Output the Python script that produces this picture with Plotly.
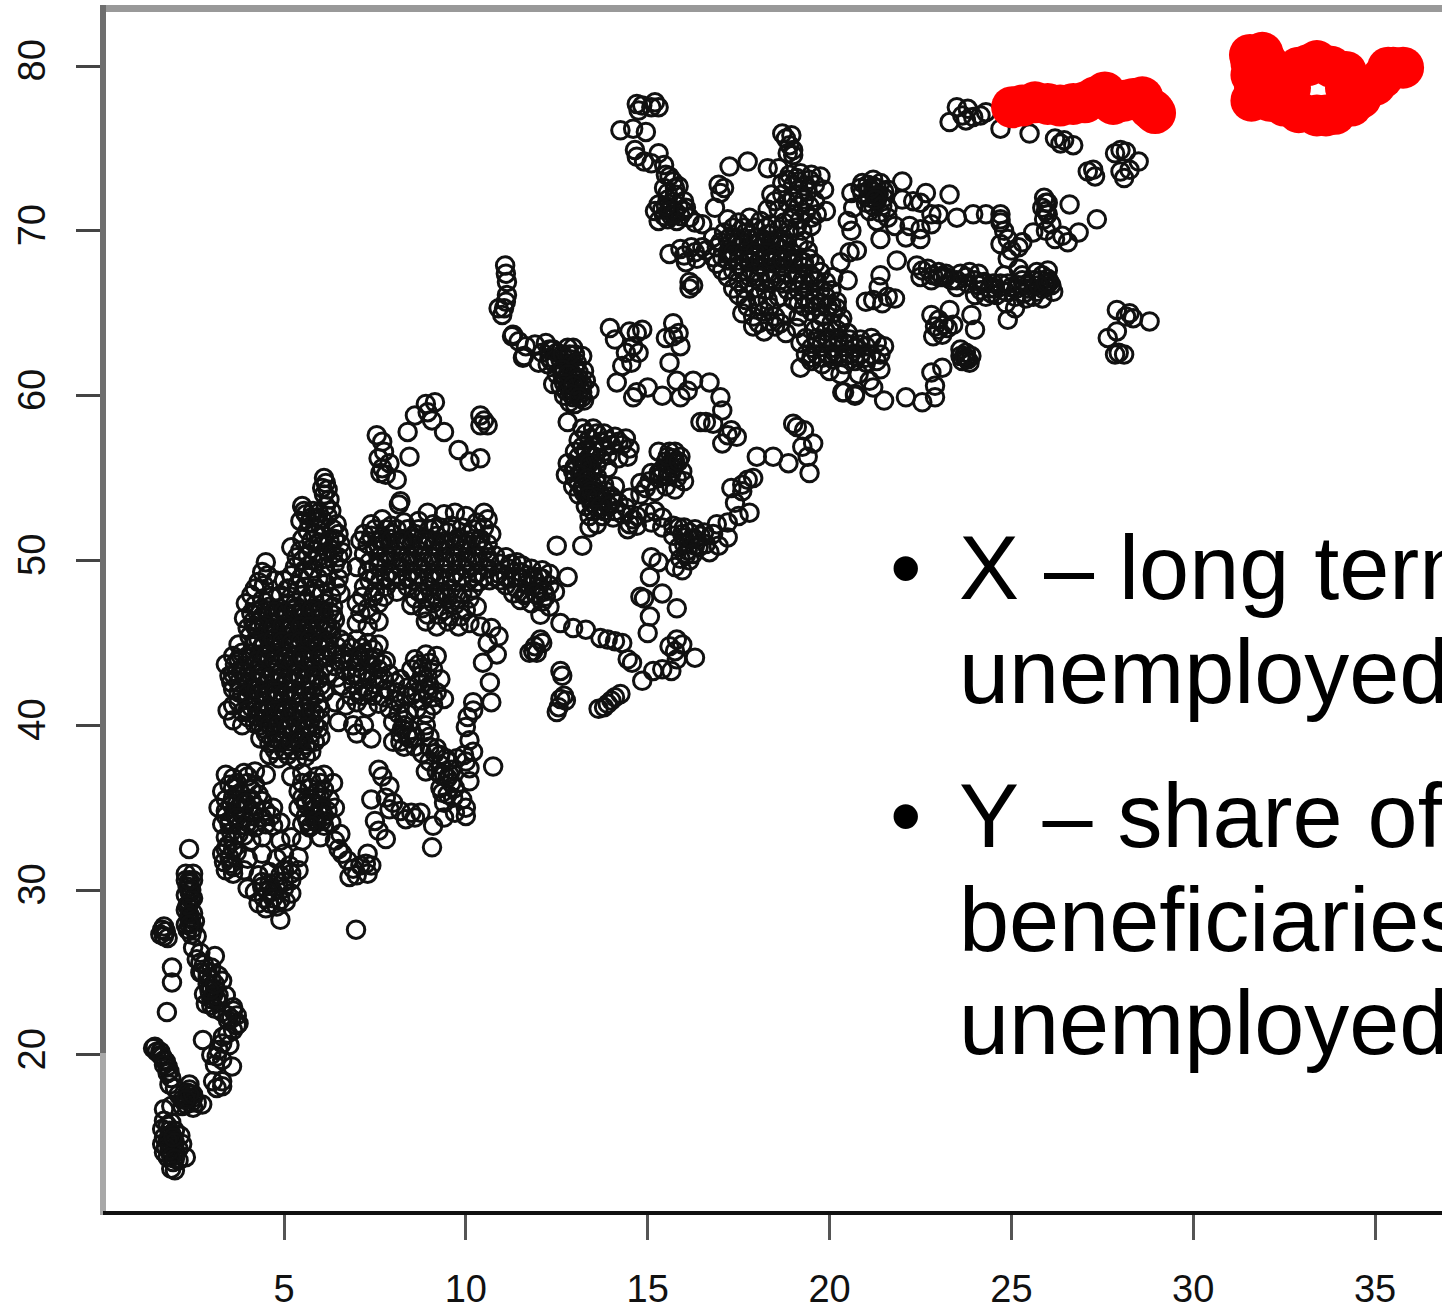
import plotly.graph_objects as go

stem_low = [(2.39,32.5),(2.3,31),(2.5,31),(2.3,30.6),(2.5,30.6),(2.35,30.2),(2.45,30),(2.3,29.7),(2.5,29.5),(2.4,29.2),(2.3,28.8),(2.5,28.6),(2.4,28.3),(2.3,27.9),(2.5,27.7),(2.45,27.3),(2.6,27.2),
(1.65,27.6),(1.75,27.5),(1.7,27.2),(1.6,27.3),(1.8,27.1),(1.7,27.8),(2.5,26.5),(2.7,26.2),(2.6,25.8),(2.8,25.5),(3.1,26),(3,25.3),(2.7,25),(3.2,24.8),(3.3,24.5),(2.9,24.3),(3.1,24),(2.8,23.7),(3,23.4),(3.2,23.2),(3.4,23.6),(2.85,23.1),(3.1,22.8),(3.3,22.6),
(1.92,25.3),(1.92,24.4),(1.78,22.6),(3.6,22.7),(2.77,20.9),(3.57,19.3),(3.3,18.1),(3.46,22.1),(3.32,21.1),(3.15,19.9),(3.6,22.9),(3.7,22.4),(3.75,21.9),(3.6,21.5),(3.45,21.3),(3.7,21.8),(3.3,20.7),(3.5,20.6),(3.2,20.3),(3,20),(3.3,19.7),(3.1,19.4),(3.05,18.4),(3.3,18.4),(3.15,18),
(1.4,20.4),(1.45,20.5),(1.5,20.2),(1.6,20),(1.7,19.7),(1.8,19.3),(1.75,19.6),(1.85,19),(1.9,18.6),(1.85,18.2),(2,18),(2.1,17.6),(2.2,17.3),(2.4,17.9),(2.5,17.4),(2.6,17.1),(2.3,17),(2.5,16.8),(2.2,16.9),(2.4,18.2),(2.75,17),(1.9,16.9),
(1.7,16.7),(1.7,16),(1.65,15.5),(1.7,15),(1.65,14.6),(1.7,14.1),(1.8,15.7),(1.9,15.2),(2,15.4),(2.15,15.1),(2.2,14.6),(1.85,14.6),(2,14.2),(1.8,13.8),(1.95,13.5),(2.1,13.6),(1.9,13.1),(2,13),(2.3,13.8),(2.1,14.3),(6.98,27.6),
(2.35,27.6),(2.55,28.1),(2.4,30.4),(2.35,29),(2.45,28),(2.7,25.6),(2.9,25),(3,24.6),(3,24),(3.2,23.6),(3,23),(3.45,22.4),(3.55,22.2),(2.35,17.4),(2.35,17.7),(2.45,17.1),(1.9,15.9),(1.85,14.2),(1.95,14.8),(1.85,15.4),
(2.4,29.9),(2.45,29.4),(2.35,29.1),(2.4,28.5),(2.4,27.9),(2.4,30.6),(2.75,25),(2.9,24.7),(3.05,23.6),(3.15,23.4),(2.95,23.9),(3.1,24.3),(1.85,15.1),(1.8,14.8),(1.75,14.4),(2,14.7),(1.95,15),(1.9,13.8),(2,13.7),(2.4,17.6),(2.5,17.6),(2.3,17.3),(1.65,19.9),(1.6,20.2),(1.7,19.4),(1.8,18.9)]

lower_left = [(3.4,37),(3.6,36.8),(3.9,37.1),(4,36.9),(4.2,37.2),(4.5,37),(5.2,36.9),(5.5,37.1),(5.9,36.9),(6.1,37),(3.3,36),(3.6,36.2),(3.8,35.9),(4.1,36.1),(4.3,35.8),(5.4,36),(5.7,36.2),(5.9,35.9),(6.1,36.1),(6.35,36.5),
(3.2,35),(3.4,34.8),(3.7,35.2),(3.9,34.9),(4.2,35.1),(4.5,34.8),(4.7,35),(5.4,35),(5.6,35.2),(5.8,34.9),(6,35.1),(6.2,34.8),(6.4,35),(3.3,34),(3.5,34.2),(3.8,33.9),(4,34.1),(4.2,33.8),(4.5,34),(4.7,33.9),(4.9,34.1),(5.5,34),(5.7,33.8),(5.9,34.1),(6.1,33.9),(6.3,34.1),
(3.4,33.2),(3.6,33),(3.9,33.3),(4.1,33),(4.4,33.2),(4.9,33),(5.2,33.2),(5.5,33),(6,33.2),(3.3,32.2),(3.5,32),(3.7,32.3),(4,31.9),(4.4,32.2),(4.8,31.9),(5,32.2),(5.4,32),(3.4,31.2),(3.6,31),(3.9,31.2),(4.3,30.9),(4.6,31.1),(4.9,30.9),(5,31.2),(5.2,31),(5.4,31.2),
(4,30.1),(4.2,29.9),(4.4,30.2),(4.7,29.9),(5,30.1),(5.2,29.8),(4.3,29.2),(4.5,28.9),(4.6,29.2),(4.8,29),(5.05,29.3),(4.9,28.2),
(6.5,32.5),(6.4,33),(6.55,33.4),(6.75,31.8),(6.6,32.2),(6.9,31.3),(7,30.9),(6.8,30.8),(7.1,31.5),(7.3,31),(7.25,31.6),
(7.4,35.5),(7.5,34.2),(7.6,33.6),(7.8,33.1),(7.3,32.2),(7.4,31.5),(7.6,37.3),(7.7,36.9),(7.9,36.3),(7.8,35.6),(8,35.3),(8.2,34.8),(8.5,34.7),(8.6,34.4),(8.75,34.7),(8.35,34.3),(7.9,34.9),(9.07,32.6),(9.1,33.9)]

lower_left_fill = [(3.5,36.4),(3.7,36.5),(4,36.5),(4.2,36.4),(5.5,36.5),(5.75,36.6),(6,36.5),(3.4,35.5),(3.6,35.6),(3.85,35.5),(4.1,35.5),(4.4,35.4),(5.5,35.6),(5.75,35.5),(6,35.6),(6.25,35.5),(3.4,34.5),(3.65,34.5),(3.9,34.4),(4.15,34.5),(4.4,34.4),(4.65,34.5),(5.6,34.5),(5.85,34.5),(6.1,34.5),(3.45,32.7),(3.6,32.5),(3.35,31.7),(3.55,31.6),(4.4,30.5),(4.6,30.4),(4.85,30.5),(5,30.5),(5.15,31.5),(4.45,29.5),
(3.55,35.2),(3.75,35),(3.95,35.3),(3.5,34),(3.7,34.4),(3.95,33.9),(4.1,34.8),(3.55,33.5),(3.75,33.4),(5.6,35.4),(5.8,35.2),(6.05,34.9),(5.65,34.2),(5.85,34.2),(6.05,34.2),(5.75,33.9),(3.4,32.5),(3.6,31.4),(4.55,29.9),(4.7,29.5),(4.9,29.4),(5.2,30.6)]

left_mass = [(6.1,55),(6.15,54.7),(6.05,54.4),(6.2,54.3),(6.1,54),(6.25,53.7),(6.15,53.3),(6.3,53),(6.2,52.7),(6.45,52.2),(6.5,51.6),(6.55,51),(6.6,50.5),(6.35,51.9),(6.4,51.3),
(5.5,53.3),(5.6,52.8),(5.45,52.4),(5.7,52.3),(5.9,52.6),(5.8,53),(6,52.1),(5.65,51.8),(5.85,51.6),(6.1,51.5),(5.95,51.1),(6.25,51.2),(6.2,50.5),(5.2,50.8),(5.65,50.3),(5.95,50.2),(5.35,50.2),(5.3,49.6),(5.55,49.4),(5.8,49.5),(6.1,49.6),(6.4,49.8),(6.6,49.5),
(4.5,49.9),(4.4,49.3),(4.55,49.1),(4.3,48.7),(4.45,48.5),(4.2,48.3),(5.1,48.3),(5.35,48.5),(5.6,48.4),(5.85,48.3),(6.15,48.6),(6.45,48.4),(4.9,47.9),(4.65,47.8),
(3.95,47.4),(4.2,47.3),(4.4,47.6),(4.6,47.2),(4.85,47.1),(5.1,47.4),(5.35,47.2),(5.6,47.5),(5.85,47.1),(6.1,47.4),(6.35,47.2),(6.55,48),
(3.9,46.5),(4.15,46.3),(4.4,46.6),(4.65,46.2),(4.9,46.4),(5.15,46.1),(5.4,46.5),(5.65,46.2),(5.9,46.4),(6.15,46.1),(6.4,46.4),
(4.05,45.4),(4.3,45.2),(4.55,45.5),(4.8,45.1),(5.05,45.4),(5.3,45.2),(5.55,45.4),(5.8,45.1),(6.05,45.3),(6.3,45.5),(6.55,45.2),
(3.6,44.2),(3.85,44.4),(4.1,44.1),(4.35,44.3),(4.6,44),(4.85,44.4),(5.1,44.1),(5.35,44.3),(5.6,44),(5.85,44.3),(6.1,44.1),(6.35,44.3),(6.6,44),
(3.4,43.7),(3.5,43),(3.7,43.2),(3.95,42.9),(4.2,43.3),(4.45,43),(4.7,43.2),(4.95,42.9),(5.2,43.2),(5.45,42.9),(5.7,43.1),(5.95,42.8),(6.2,43.1),(6.45,42.9),
(3.6,42.2),(3.85,41.9),(4.1,42.2),(4.35,41.9),(4.6,42.1),(4.85,41.8),(5.1,42.1),(5.35,41.9),(5.6,42.1),(5.85,41.8),(6.1,42),
(3.45,40.9),(3.6,41.2),(3.85,40.8),(4.1,41.1),(4.35,40.8),(4.6,41),(4.85,40.7),(5.1,41),(5.35,40.8),(5.6,41),(5.85,40.7),
(3.6,40.3),(3.85,40),(4.2,40.1),(4.45,39.8),(4.7,40.1),(4.95,39.8),(5.2,40),(5.45,39.7),(5.7,40),(5.95,39.8),
(4.35,39.2),(4.6,38.9),(4.85,39.1),(5.1,38.8),(5.35,39.1),(5.6,38.8),(5.85,39),(4.6,38.2),(4.85,38),(5.1,38.2),(5.35,37.9),(5.6,38.1)]

left_fill = [(5.55,53),(5.75,52.6),(5.95,52.9),(6.05,52.5),(5.5,51.3),(5.75,51.2),(6.05,50.9),(6.3,50.7),(5.45,50.6),(5.75,50.7),(6.5,50.2),(5.5,50),(5.8,50),(6.1,50.1),(6.35,50.4),
(5.2,49.1),(5.45,48.9),(5.7,49),(5.95,48.9),(6.2,49.1),(6.5,48.9),(4.75,48.8),(5,48.8),
(4.1,47.9),(4.35,47),(4.6,46.7),(4.1,46.8),(4.85,46.7),(5.1,46.8),(5.35,46.8),(5.6,46.8),(5.85,46.8),(6.1,46.8),(6.35,46.7),(5.2,47.8),(5.5,47.9),(5.8,47.9),(6.05,48),(6.3,47.8),
(4,45.9),(4.3,45.8),(4.55,45.9),(4.8,45.7),(5.05,45.8),(5.3,45.7),(5.55,45.8),(5.8,45.7),(6.05,45.8),(6.3,45.9),
(3.75,44.9),(4.15,44.8),(4.4,44.8),(4.65,44.7),(4.9,44.8),(5.15,44.7),(5.4,44.8),(5.65,44.6),(5.95,44.8),(6.2,44.7),(6.45,44.8),
(3.65,43.7),(3.9,43.6),(4.1,43.6),(4.35,43.7),(4.6,43.5),(4.85,43.7),(5.1,43.6),(5.35,43.7),(5.6,43.5),(5.85,43.6),(6.1,43.5),(6.4,43.6),
(3.55,42.6),(3.75,42.6),(4,42.5),(4.25,42.6),(4.5,42.5),(4.75,42.6),(5,42.5),(5.25,42.6),(5.5,42.4),(5.75,42.5),(6,42.4),
(3.75,41.4),(4,41.6),(4.2,41.5),(4.45,41.4),(4.7,41.5),(4.95,41.4),(5.2,41.5),(5.45,41.4),(5.7,41.4),(5.95,41.3),
(4,40.5),(4.25,40.5),(4.5,40.4),(4.75,40.4),(5,40.4),(5.25,40.5),(5.5,40.3),(5.75,40.4),(6,40.4),
(4.5,39.5),(4.75,39.5),(5,39.4),(5.25,39.5),(5.5,39.4),(5.75,39.5),(6,39.3),(4.75,38.5),(5,38.5),(5.25,38.5),(5.5,38.5),(5.75,38.4)]

left_dense = [(4.25,46.9),(4.5,47),(4.75,46.9),(5,46.9),(5.25,47),(5.5,47),(5.75,47),(6,46.9),(6.25,46.9),(4.2,46),(4.45,46.1),(4.7,45.9),(4.95,46),(5.2,45.9),(5.45,46),(5.7,46),(5.95,46),(6.2,45.9),(4.2,45.1),(4.45,45),(4.7,45.2),(4.95,45.1),(5.2,45),(5.45,45.1),(5.7,45.2),(5.95,45),(6.2,45.1),(3.75,44),(4,44.2),(4.25,43.9),(4.5,44.2),(4.75,43.9),(5,44.1),(5.25,43.9),(5.5,44.2),(5.75,43.9),(6,44.2),(3.6,43.1),(3.85,43.2),(4.1,42.9),(4.35,43.1),(4.6,42.9),(4.85,43.1),(5.1,42.8),(5.35,43.1),(5.6,42.8),(5.85,43),(3.75,42),(4,41.9),(4.25,42.2),(4.5,41.9),(4.75,42),(5,41.9),(5.25,42.1),(5.5,41.8),(5.75,42.1),(4,40.9),(4.25,41),(4.5,40.8),(4.75,40.9),(5,40.8),(5.25,40.9),(5.5,40.8),(5.75,40.9),(6,41),(4.35,40),(4.6,40),(4.85,40),(5.1,39.9),(5.35,40),(5.6,39.9),(5.85,40),(4.7,39),(4.95,39),(5.2,39),(5.45,39),(5.7,39)]

mid_band = [(8.95,52.9),(8.16,53.4),(7.7,52.5),(7.4,52.2),(7.1,51.2),(7.2,51.6),(9.4,52.8),(9.7,52.9),(10,52.7),(10.5,52.9),(10.6,52.5),(10.3,52.3),(9.1,52.2),(8.7,52.4),(8.3,52.3),(7.95,52.1),
(7.4,51.5),(7.7,51.3),(8,51.6),(8.3,51.3),(8.6,51.6),(8.9,51.3),(9.2,51.5),(9.5,51.7),(9.8,51.4),(10.1,51.6),(10.4,51.3),(10.7,51.6),
(7.2,50.4),(7.5,50.7),(7.8,50.4),(8.1,50.6),(8.4,50.3),(8.7,50.6),(9,50.3),(9.3,50.6),(9.6,50.4),(9.9,50.6),(10.2,50.3),(10.5,50.6),(10.8,50.3),(11.1,50.2),(11.4,49.9),
(7,49.6),(7.3,49.3),(7.6,49.6),(7.9,49.3),(8.2,49.6),(8.5,49.3),(8.8,49.5),(9.1,49.2),(9.4,49.5),(9.7,49.2),(10,49.5),(10.3,49.2),(10.6,49.5),(10.9,49.2),(11.2,49.5),(11.5,49.3),(11.8,49.5),(12.1,49.4),(12.3,49.2),
(7.2,48.4),(7.5,48.1),(7.8,48.4),(8.1,48.1),(8.4,48.4),(8.7,48.1),(9,48.4),(9.3,48.1),(9.6,48.3),(9.9,48),(10.2,48.3),(11.1,48.5),(11.4,48.3),(11.7,48.6),(12,48.3),(12.3,48.5),(12.45,48.1),
(7,47.4),(7.3,47.1),(7.6,47.4),(8.5,47.3),(8.8,47.1),(9.1,47.4),(9.4,47),(9.7,47.3),(10,47),(10.3,47.2),(11.5,47.6),(11.8,47.4),(12.1,47.5),(12.3,47.2),
(8.9,46.3),(9.2,46),(9.5,46.3),(9.8,46),(10.1,46.2),(10.4,46),(7,46.2),(7.3,46),(7.6,46.3),(12.05,46.7),
(10.7,45.9),(10.6,45),(10.85,44.3),(10.9,45.4),(10.47,43.8),(10.66,42.6),(10.7,41.4),(10.75,37.5),(10.2,40.9),(10,39.9),(11.85,44.5),(12.1,45),(12.6,46.2),(12.5,50.9),(13.2,50.9),(12.8,49),(11.75,44.4),(11.95,44.4),(11.9,44.8),(12.05,45.2)]

mid_fill = [(7.5,51.9),(7.8,51.9),(8.1,51.9),(8.4,51.9),(8.7,51.9),(9,51.9),(9.3,52),(9.6,52.1),(9.9,52),(10.2,51.9),(10.5,52),
(7.3,51),(7.6,50.9),(7.9,51),(8.2,50.9),(8.5,51),(8.8,50.9),(9.1,50.9),(9.4,51),(9.7,50.9),(10,51),(10.3,50.9),(10.6,51),
(7.35,49.9),(7.65,49.9),(7.95,50),(8.25,49.9),(8.55,49.9),(8.85,49.9),(9.15,49.9),(9.45,49.9),(9.75,49.9),(10.05,49.9),(10.35,49.9),(10.65,49.9),(10.95,49.8),(11.25,49.8),(11.55,49.7),(11.85,49),(12.1,48.9),
(7.35,48.8),(7.65,48.8),(7.95,48.8),(8.25,48.8),(8.55,48.8),(8.85,48.8),(9.15,48.8),(9.45,48.8),(9.75,48.7),(10.05,48.7),(10.35,48.7),(10.65,48.8),(10.95,48.8),(11.25,48.9),(11.55,48.9),
(7.15,47.8),(7.45,47.8),(7.75,47.8),(8.6,47.7),(8.9,47.7),(9.2,47.7),(9.5,47.7),(9.8,47.7),(10.1,47.7),(8.95,46.7),(9.25,46.7),(9.55,46.6),(9.85,46.6),(11.65,48),(11.95,47.9),(12.2,47.8),(11.9,48.8),(7.1,46.8),(7.4,46.7),
(7.65,51.2),(7.95,51.3),(8.25,51.2),(8.55,51.3),(8.85,51.2),(9.15,51.2),(9.45,51.2),(9.75,51.2),(10.05,51.2),(10.35,51.2),(7.6,50.2),(7.9,50.2),(8.2,50.2),(8.5,50.2),(8.8,50.2),(9.1,50.2),(9.4,50.2),(9.7,50.2),(10,50.2),(10.3,50.2),(10.6,50.2),(7.5,49),(7.8,49),(8.1,49),(8.4,49),(8.7,49),(9,49),(9.3,49),(9.6,49),(9.9,49),(10.2,49),(10.5,49),(10.8,49),(11.1,49),(11.4,49),(11.7,49.1),(12,49),(8.85,48),(9.15,47.9),(9.45,47.9),(9.75,48),(11.3,48),(11.6,47.9),(11.9,48),(12.15,48.1)]

lower_mass = [(6.7,45),(7,45.2),(7.3,45),(7.6,44.9),(6.6,44.3),(6.9,44.1),(7.2,44.4),(7.5,44.1),(7.8,43.9),(6.7,43.3),(7,43.5),(7.3,43.2),(7.6,43.4),(7.9,43.1),(8.2,42.8),(6.6,42.4),(6.9,42.5),(7.2,42.3),(7.5,42.5),(7.8,42.2),(8.1,42),(8.4,42.3),
(8.6,44),(8.9,44.3),(9.2,44.2),(8.5,43.4),(8.8,43.1),(9.1,43.4),(9.3,42.8),(8.7,42.6),(9,42.4),(8.5,41.8),(8.8,41.5),(9.1,41.2),(9.4,41.6),
(6.4,41.4),(6.7,41.2),(7,41.4),(7.3,41.1),(7.6,41.3),(7.9,41),(8.2,41.3),(8.4,40.7),(6.5,40.2),(6.9,40),(7.2,40),(7,39.5),(7.4,39.2),
(8,40.2),(8.3,40.3),(8.5,39.7),(8.2,39.5),(8,39),(8.3,38.7),(8.6,38.7),(8.9,40),(9,39.3),(9.2,38.6),(8.8,38.3),(9,37.8),(9.3,37.6),(9.6,37.3),(9.5,36.8),(9.3,36.2),(9.7,36.2),(9.5,35.8),(9.9,35.5),(9.4,35.3),(9.75,38),(9.95,38.2),(10.1,39.1),(10.2,38.4),(10.1,37.4),(10.05,40.5),(10.2,41.4),(10.1,36.6),(10,35),(9.7,34.7),(9.4,34.4),(10,34.5)]

lower_fill = [(6.85,44.7),(7.15,44.7),(7.45,44.6),(6.8,43.9),(7.1,43.9),(7.4,43.7),(7.7,43.7),(6.85,43),(7.15,42.9),(7.45,42.9),(7.75,42.8),(8.05,42.6),(8.35,41.8),(8.05,41.5),(7.75,41.7),(7.45,41.8),(7.15,41.8),(6.85,41.8),(8.7,43.7),(9,43.8),(8.65,42),(8.95,41.9),(9.2,42),(8.65,41),(8.9,40.7),(8.2,39),(8.45,39.2),(8.3,40),(8.15,40.7),(8.85,39.6),(9,38.7),(9.3,38.2),(9.2,37.2),(9.5,37.8),(9.4,37),(9.6,36.5),(9.35,35.9),(9.65,35.6),(10,37.8),(8.9,37.2),
(7.1,44.2),(7.35,44.1),(7,43.1),(7.3,43),(7.6,42.9),(7.05,42.1),(7.35,42),(8.8,43.5),(8.95,42.9),(8.9,42.2),(9.1,41.7),(8.25,39.8),(8.4,39.4),(8.6,39.3),(9.15,38.3),(9.45,38),(9.3,37),(9.55,37)]

upper_trail = [(7.55,57.6),(7.7,57.2),(7.75,56.6),(7.6,56.2),(7.9,55.9),(7.7,55.6),(7.8,55.2),(7.65,55.3),(8.4,57.8),(8.45,56.3),(8.6,58.8),(8.9,59.5),(9.15,59.6),(9.07,58.5),(8.95,59),(9.4,57.8),(9.8,56.7),(10.1,56),(10.4,56.2),(10.4,58.8),(10.6,58.2),(10.4,58.2),(10.5,58.5),(8.2,53.6),(8.1,54.9)]

center_a = [(11.08,67.9),(11.13,66.9),(11.1,67.4),(11.13,66.1),(11.05,65.3),(11,64.9),(10.9,65.3),(11.1,65.7),(11.27,63.6),(11.3,63.7),(11.45,63.3),(11.57,62.3),(11.6,62.4),(11.65,63),(12,62),(12.25,61.9),(12.8,58.4),
(11.9,63.1),(12.2,63.2),(12.4,62.8),(12.1,62.6),(12.3,62.3),(12.6,62.2),(12.8,62.9),(12.95,62.9),(13.2,62.4),(12.9,62.2),(12.7,61.7),(13,61.7),(13.25,61.5),(12.5,61.3),(12.75,61),(13,61),(13.3,60.9),(12.6,60.6),(12.85,60.4),(13.15,60.4),(13.4,60.3),(12.7,60),(12.95,59.9),(13.2,59.9),(13,59.5),(13.25,59.7),(12.85,59.6),(12.4,60.7),
(12.3,62.8),(12.5,62.6),(12.7,62.3),(13,62.5),(12.85,61.9),(13.1,61.4),(12.9,61.4),(12.65,61.3),(12.85,60.8),(13.05,60.7),(13.2,60.7),(12.75,60.3),(13,60.2),(13.2,60.2),(12.35,62.1),
(12.45,62.2),(12.65,62.5),(12.85,62.5),(13.05,62),(12.65,61.6),(12.8,61.3),(13.1,61.05),(12.7,60.75),(12.95,60.65),(12.9,60.1),(13.1,59.9)]

center_b = [(13.2,58),(13.5,58),(13.8,57.7),(14.1,57.5),(14.4,57.4),(14.5,56.8),(14.3,57),(14,57),(13.7,57.2),(13.4,57.4),(13.1,57.3),(13,56.6),(13.3,56.7),(13.6,56.6),(13.9,56.4),(14.2,56.2),(14.45,56.3),(12.8,55.9),(13,55.7),(13.3,56),(13.6,55.8),(13.9,55.6),(12.75,55.2),(13,55),(13.3,55.2),(13.6,55.1),(12.95,54.5),(13.2,54.4),(13.5,54.5),(13.8,54.6),(14.1,54.5),(13.1,54),(13.4,53.8),(13.7,54),(14,53.9),(13.3,53.3),(13.6,53.2),(13.9,53.4),(14.2,53.5),(14.5,53.8),(14.8,54),(13.4,52.7),(13.6,52.2),(13.75,52.7),(14.05,52.6),(14.3,52.8),(14.5,52.2),(14.45,51.9),(14.7,52.1),(14.7,52.7),(14.95,52.9),(15.2,53),(15.4,52.6),(15.1,52.3),(13.4,52),
(14.8,54.7),(15.05,54.8),(15.3,55),(15.55,55.1),(15.8,55),(16,54.8),(15.1,55.3),(15.4,55.5),(15.7,55.6),(15.95,55.4),(15.5,56),(15.7,56.2),(15.9,56.3),(15.6,56.6),(15.75,56.6),(15.3,56.6),(15.5,54.5),(15.75,54.3),(15.2,54.2),(14.95,54.4),
(15.4,52),(15.7,52.1),(16,52),(16.3,51.9),(16.55,51.7),(16.8,51.6),(15.7,51.5),(16,51.4),(16.3,51.3),(16.6,51),(15.85,50.8),(16.1,50.6),(16.4,50.8),(16.7,50.5),(15.9,50.1),(16.15,50),(15.75,49.6),(15.95,49.4),(16.95,50.9),(17.2,51.4),(17.2,52.3),(16.9,52.2),(17.5,52.7),(17.8,52.9),(17.4,53.5),(17.6,54.6),(17.9,55),(17.3,54.4),(17.75,54.9),(17.6,54.2),
(13.3,57.7),(13.6,57.7),(13.9,57.3),(14.2,57.2),(13.2,56.9),(13.5,56.9),(13.8,56.9),(13.1,56.3),(13.4,56.3),(13.7,56.2),(12.95,55.4),(13.2,55.5),(13.45,55.5),(13.1,54.7),(13.35,54.7),(13.6,54.7),(13.25,54.1),(13.55,54.2),(13.85,54.2),(13.45,53.5),(13.75,53.6),(14.05,53.7),(13.5,53),(13.8,53),(14.1,53),(14.4,53.2),(14.6,52.5),(15.6,55.8),(15.75,56),(15.65,55.3),(15.3,55.3),(15.85,52),(16.15,51.7),(16.45,51.5),(16,51),(16.3,50.9),(16.05,50.3),
(13.3,56.6),(13.55,56.3),(13.2,55.9),(13.4,55.9),(13.15,55.2),(13.35,55),(13.25,54.6),(13.45,54.2),(13.6,53.8),(13.35,53.9),(13.7,53.3),(13.95,53.3),(15.55,55.5),(15.4,55.2),(15.75,55.9),(15.55,56.3),(15.85,56),(15.95,51.6),(16.2,51.3),(16.25,50.4)]

center_c = [(13.96,64.1),(14.1,63.4),(14.7,63.8),(14.5,63.9),(14.85,64),(14.4,62.6),(14.6,63),(14.75,62.6),(14.3,61.8),(14.55,62),(14.15,60.8),(14.6,59.9),(15,60.5),(14.7,60.2),(15.4,60),(15.9,59.9),(16.1,60.3),(15.8,60.9),(16.25,60.9),(16.7,60.8),(17,59.9),(17.05,59.1),(16.45,58.4),(16.6,58.4),(16.8,58.3),(17.3,57.9),(17.05,57.1),(17.45,57.5),(17.2,57.6),
(15.7,64.4),(15.7,63.6),(15.9,63),(15.85,63.8),(15.6,62),(15.5,63.5),(18,56.3),(18.45,56.3),(18.87,55.9),(19.45,55.3),(19.55,57.1),(19.4,56.3),(19,58.3),(19.1,58.1),(19.3,57.9),(19.25,56.9)]

center_d = [(15.1,50.2),(15.06,49),(15.3,49.9),(15.4,48),(14.8,47.8),(14.9,47.7),(15.8,47.1),(15.06,46.6),(15,45.6),(15.8,45.2),(15.6,44.8),(15.75,44.5),(15.95,44.9),(16.3,44.1),(14.57,43.8),(14.45,44),(14.85,42.7),(15.15,43.3),(15.4,43.4),(15.65,43.3),(15.8,44),
(12.6,43.3),(12.65,43),(12.6,41.6),(12.7,41.8),(12.55,41.1),(12.5,40.8),(12.75,41.5),(12.95,45.9),(13.3,45.8),(13.7,45.3),(13.9,45.2),(14.1,45.1),(14.3,45),
(13.65,41),(13.8,41.1),(13.9,41.3),(14,41.5),(14.1,41.7),(14.25,41.9)]

upper_left = [(14.7,77.7),(14.75,77.3),(15.2,77.8),(15.3,77.5),(15.1,77.5),(14.85,77.6),(14.25,76.1),(14.6,76.2),(14.95,76),(14.65,74.9),(14.7,74.5),(14.9,74.2),(15.3,74.7),(15.1,74.1),(15.45,74),(15.5,73.4),(15.7,73),(15.85,72.7),(15.45,72.6),(15.75,72.2),(16,71.8),(15.55,71.9),(15.2,71.2),(15.3,70.6),(15.55,70.7),(15.75,71.2),(16,71.2),(15.4,71.3),(15.8,70.6),(16.15,70.8),(16.5,70.4),
(15.6,68.6),(15.9,68.9),(16.2,69),(16.5,69),(16.05,68.1),(16.35,68.3),(16.15,66.9),(16.15,66.5),(16.25,66.7),(16.95,72.8),(17,72.3),(17.1,72.6),(17.25,73.9),(17.75,74.2),(18.3,73.8),(16.85,71.4),
(15.6,73.3),(15.75,72.6),(15.55,72.3),(15.3,71.6),(15.6,71.4),(15.85,71.5),(15.45,70.9),(15.65,70.9),(15.9,70.9),(16.05,71.4),(16.3,70.5),(16,68.5),(16.3,68.7),(15.6,71.2),(15.75,71),(15.5,71.5)]

upper_main = [(18.7,75.9),(18.95,75.8),(18.8,75.6),(18.9,75.2),(19,74.9),(18.85,74.7),(19,74.6),(18.6,73.8),(18.9,73.4),(19.2,73.5),(19.5,73.4),(19.75,73.3),(18.7,72.9),(19,72.8),(19.3,72.7),(19.6,72.8),(19.85,72.5),(18.4,72.2),(18.7,72.2),(19,72),(19.3,71.9),(19.6,71.8),(18.3,71.3),(18.6,71.3),(19,71),(19.35,71.1),(19.65,71),(19.9,71.2),
(17.2,70.7),(17.5,70.5),(17.8,70.8),(18.1,70.6),(18.4,70.4),(18.75,70.5),(19.1,70.2),(19.5,70.3),(16.8,69.6),(17.1,69.9),(17.4,69.6),(17.7,69.9),(18,69.6),(18.3,69.8),(18.6,69.5),(18.9,69.8),(19.3,69.4),
(16.6,68.8),(16.9,69),(17.2,68.7),(17.5,69),(17.8,68.7),(18.1,69),(18.4,68.7),(18.7,68.9),(19,68.6),(19.4,68.8),(16.9,68),(17.2,68.2),(17.5,67.9),(17.8,68.1),(18.1,67.8),(18.4,68.1),(18.7,67.8),(19,68),(19.3,67.8),(19.6,68),
(17.2,67.2),(17.5,66.9),(17.8,67.2),(18.1,66.9),(18.4,67.1),(18.7,66.8),(19,67),(19.3,66.8),(19.6,67),(19.9,66.9),(17.5,66.1),(17.7,65.8),(18,66),(18.3,65.8),(18.6,66),(19,65.8),(19.3,66),(19.6,65.8),(19.9,66),(20.2,65.7),
(17.6,65),(17.9,64.8),(18.2,65.1),(18.5,64.8),(18.8,65),(19.15,64.8),(19.5,65.1),(19.8,64.8),(20.1,65),(20.35,64.7),(17.9,64.2),(18.2,63.9),(18.5,64.2),(18.8,63.8),(19.1,64.1),(19.6,64),(19.9,63.9),(20.2,64),(20.5,63.8),
(19.2,63.2),(19.5,62.9),(19.8,63.2),(20.1,62.9),(20.4,63.2),(20.7,62.9),(21,63),(21.3,63.2),(21.5,63),(19.2,61.7),(19.5,62.1),(19.8,61.9),(20.1,62.2),(20.4,61.9),(20.7,62.1),(21,62),(21.3,62.1),(21.4,61.6),(20,61.5),(20.3,61.3),(20.8,61.3),(20.35,60.2),(20.7,60.1),(21.1,60.9),(21.2,60.5),(21.5,59.7),
(20.5,70.6),(20.6,70),(20.55,68.7),(20.3,68.1),(20.75,68.8),(20.1,67.2),(20.5,67),(21.4,67.3),(21.35,66.6),(21.6,66),(21.2,65.8),(21,65.7),(21.45,65.6),(21.8,65.9)]

upper_main_fill = [(17,69.3),(17.3,69.3),(17.6,69.3),(17.9,69.2),(18.2,69.3),(18.5,69.2),(18.8,69.2),(19.15,69.2),(16.8,68.4),(17.05,68.4),(17.35,68.4),(17.65,68.4),(17.95,68.4),(18.25,68.4),(18.55,68.3),(18.85,68.3),(19.15,68.3),(19.45,68.3),(17.05,67.6),(17.35,67.6),(17.65,67.6),(17.95,67.5),(18.25,67.5),(18.55,67.4),(18.85,67.4),(19.15,67.4),(19.45,67.4),(19.75,67.5),
(17.35,66.5),(17.65,66.5),(17.95,66.5),(18.25,66.4),(18.85,66.4),(19.15,66.4),(19.45,66.4),(19.75,66.4),(20.05,66.4),(17.75,65.4),(18.05,65.5),(18.35,65.4),(19.3,65.4),(19.65,65.4),(19.95,65.4),(20.2,65.3),(18.05,64.4),(18.35,64.5),(18.65,64.4),(19.75,64.4),(20.05,64.4),(20.3,64.4),
(19.35,63.5),(19.65,63.5),(19.95,63.5),(20.25,63.5),(20.55,63.4),(20.85,63.4),(21.15,63.5),(19.35,62.5),(19.65,62.5),(19.95,62.5),(20.25,62.5),(20.55,62.5),(20.85,62.5),(21.15,62.5),(21.4,62.5),(18.95,70.8),(19.2,70.7),(19.5,70.8),(17.35,70.2),(17.65,70.2),(17.95,70.2),(18.25,70.2),(18.6,70.1),(18.9,70.1),(19.25,70),(18.85,71.7),(19.15,71.5),(19.45,71.5),(18.5,71.8),(18.85,73.1),(19.15,73),(19.45,73.1),
(17.2,69.5),(17.5,69.5),(17.8,69.5),(18.1,69.4),(18.4,69.4),(18.7,69.4),(17.35,68.7),(17.65,68.7),(17.95,68.7),(18.25,68.7),(18.55,68.6),(18.85,68.6),(17.5,68.2),(17.8,68.2),(18.1,68.2),(18.4,68.3),(18.7,68.2),(19,68.2),(19.3,68.1),(18.05,67.2),(18.35,67),(18.65,67),(19.25,67),(19.55,67.2),(19.15,65.6),(19.45,65.6),(19.8,65.6),(20.05,65.5),(19.65,63.3),(19.95,63.3),(20.25,63.2),(20.55,63.1),(20.85,63.1),(19.5,62.3),(19.8,62.3),(20.1,62.4),(20.4,62.4),(20.7,62.4),(21,62.3),(19.15,72.2),(19.4,72.4),(19.1,73.2)]

upper_right = [(20.6,72.3),(20.9,72.9),(21.2,73.1),(21.4,72.9),(21.6,72.5),(20.9,72.3),(21.2,72.4),(21.5,72),(21,71.7),(21.3,71.8),(21.6,71.4),(21.1,71.2),(21.4,71.1),(21.3,70.6),(21.6,70.8),(20.65,71.4),(21.4,69.5),(22,71.9),(22.3,71.8),(22.5,71.7),(22,73),(22.65,72.3),(23.3,72.2),(22.8,71),(22.2,70.3),(22.5,70.1),(22.8,70.4),(23,71),(21.8,70.3),(22.1,69.6),(21.85,68.2),(22.5,69.5),(23.5,70.8),(23.95,71),(24.3,71),(24.7,70.7),
(22.4,67.9),(22.7,67.7),(23,67.5),(22.5,67.2),(22.8,67),(23.1,67.2),(23.35,67),(23.6,67.4),(23.85,67.5),(24.1,67.4),(23.5,66.6),(23.8,66.8),(24.1,66.7),(24.4,66.5),(24.7,66.8),(24,66.1),(24.3,66),(24.6,66.1),(24.85,65.6),(25.1,66),(25.4,65.9),(25.7,66.3),(25,66.6),(25.3,67),(24.8,67.3),(25.8,67),(26,67.1),(25.95,66.6),(26.1,66.7),(25.7,67.5),(26,67.6),(26.15,66.3),(25.85,65.9),(25.1,65.3),(24.9,64.6),(25.2,67.7),(25.3,67.3),
(22.8,64.9),(22.9,64.2),(23.1,63.7),(23,64.6),(23.25,64.1),(23.4,64.3),(22.85,63.6),(23.9,64.9),(24,64),(23.6,62.8),(23.75,62.6),(23.9,62.4),(23.65,62.1),(23.85,62),(23.75,62.3),(23.6,62.4),(23.3,65.2),
(20.4,60.2),(20.7,60),(22.1,59.9),(22.55,59.6),(22.9,59.9),(22.9,60.6),(22.8,61.4),(23.1,61.7),
(24.7,71),(24.7,70.5),(24.8,70),(24.9,69.5),(24.7,69.2),(25,68.8),(24.9,68.3),(25.3,69.3),(25.6,69.9),(25.2,69),(25.9,72),(26,71.7),(25.85,71.4),(26,71),(25.9,70.7),(26.1,70.4),(26.6,71.6),(26.4,69.7),(26.55,69.3),(26.85,69.9),(27.35,70.7),(25.95,70),(26.2,69.5),
(20.85,72.6),(21.05,72.8),(21.3,72.6),(21.5,72.4),(21.1,72),(21.35,72.2),(21.2,71.5),(21.45,71.5),(22.55,67.6),(22.85,67.3),(23.2,67.4),(23.5,67),(23.75,67.2),(24,67),(24.25,66.9),(24.55,66.5),(24.85,66.3),(25.15,66.5),(25.45,66.5),(25.6,66),(25.85,66.5),(26.05,66.9),(25.6,67),(25.85,67.3),(25.35,66.2),(24.15,66.4),(24.45,66.2),(25.95,71.7),(25.95,71.2),(23,64),(23.15,64.3),(23.7,62.4),(23.8,62.2),
(21.2,72.7),(21.1,72.5),(21.3,72.1),(21.25,71.9),(24.2,66.8),(24.5,66.8),(24.9,66.8),(25.2,66.7),(25.45,66.7),(26,66.9),(25.95,66.8),(25.75,66.7),(23.2,67.2),(23,67.2)]

top_right = [(23.3,76.6),(23.5,77.5),(23.65,77),(23.75,76.7),(23.8,77.4),(23.95,76.9),(24.15,77),(24.3,77.2),(24.7,76.2),(25.5,75.9),(26.2,75.6),(26.35,75.3),(26.45,75.5),(26.7,75.2),(27.1,73.6),(27.25,73.7),(27.3,73.3),(27.85,74.7),(28,74.9),(28.15,74.8),(28.5,74.2),(28,73.6),(28.1,73.2),(28.25,73.7),
(27.9,65.2),(28.15,64.8),(28.25,65),(28.35,64.7),(28.8,64.5),(27.65,63.5),(27.9,63.9),(27.85,62.5),(28.1,62.5),(27.95,62.6)]

red_points = [(25.02,77.5),(25.3,77.6),(25.65,77.8),(26,77.7),(26.34,77.6),(26.7,77.7),(27.02,77.8),(27.3,78.1),(27.57,78.4),(27.8,77.7),(28.1,77.9),(28.35,78),(28.6,78.1),(28.8,77.45),(28.9,77.3),(28.95,77.15),
(31.56,80.67),(31.6,80.2),(31.9,80.8),(32,80.3),(31.6,79.45),(31.7,78.7),(31.6,77.9),(32.25,79.75),(32.3,78.2),(32.66,78.67),(32.9,79.9),(33.16,80.06),(33.4,80.3),(33.8,79.95),(34.2,79.64),(34.2,78.67),(33.4,77),(33.65,77),(33.9,77.1),(34.35,77.6),(34.6,78.06),(34.7,78.5),(35,78.85),(35.2,79.3),(35.36,79.9),(35.5,79.9),(35.77,79.9),(32.5,77.6),(32.1,77.9),(32.9,77.2)]

x_ticks = [5, 10, 15, 20, 25, 30, 35]
y_ticks = [20, 30, 40, 50, 60, 70, 80]
text_lines = ["X – long term", "unemployed", "Y – share of", "beneficiaries", "unemployed"]
text_rows = [568, 672, 816, 920, 1023]
bullet_rows = [568, 816]

black = (stem_low + lower_left + lower_left_fill + left_mass + left_fill + left_dense + mid_band + mid_fill + lower_mass + lower_fill +
         upper_trail + center_a + center_b + center_c + center_d + upper_left + upper_main + upper_main_fill + upper_right + top_right)

fig = go.Figure()
fig.add_trace(go.Scatter(x=[p[0] for p in black], y=[p[1] for p in black], mode="markers", hoverinfo="skip",
                         marker=dict(symbol="circle-open", size=17.5, color="#111111", line=dict(width=3, color="#111111"))))
fig.add_trace(go.Scatter(x=[p[0] for p in red_points], y=[p[1] for p in red_points], mode="markers", hoverinfo="skip",
                         marker=dict(symbol="circle", size=42, color="#ff0000", line=dict(width=0))))

L, T, R, B = 103, 8, 1442, 1213
def px(v): return (v - L) / (R - L)
def py(v): return (B - v) / (B - T)

shapes = [
    dict(type="line", xref="paper", yref="paper", x0=0, x1=1, y0=py(8.5), y1=py(8.5), line=dict(color="#999999", width=7)),
    dict(type="line", xref="paper", yref="paper", x0=px(103), x1=px(103), y0=py(5), y1=py(1053), line=dict(color="#6e6e6e", width=6)),
    dict(type="line", xref="paper", yref="paper", x0=px(103), x1=px(103), y0=py(1053), y1=py(1215), line=dict(color="#a8a8a8", width=6)),
    dict(type="line", xref="paper", yref="paper", x0=px(103), x1=1, y0=py(1213), y1=py(1213), line=dict(color="#111111", width=4)),
]
annotations = []
for t, r in zip(text_lines, text_rows):
    annotations.append(dict(text=t, xref="paper", yref="paper", x=px(957), y=py(r), xanchor="left", yanchor="middle",
                            showarrow=False, font=dict(family="Liberation Sans", size=90, color="black")))
for r in bullet_rows:
    annotations.append(dict(text="•", xref="paper", yref="paper", x=px(906), y=py(r), xanchor="center", yanchor="middle",
                            showarrow=False, font=dict(family="Liberation Sans", size=90, color="black")))

tick_font = dict(family="Liberation Sans", size=38, color="#111111")
fig.update_layout(
    width=1442, height=1306, margin=dict(l=103, r=0, t=8, b=93, autoexpand=False),
    paper_bgcolor="white", plot_bgcolor="white", showlegend=False, shapes=shapes, annotations=annotations,
    xaxis=dict(range=[0.023, 36.84], tickmode="array", tickvals=x_ticks, ticktext=[str(v) for v in x_ticks], ticks="outside",
               ticklen=26, tickwidth=3, tickcolor="#555555", showgrid=False, zeroline=False, showline=False,
               tickfont=tick_font, ticklabelstandoff=16),
    yaxis=dict(range=[10.41, 83.52], tickmode="array", tickvals=y_ticks, ticktext=[str(v) for v in y_ticks], ticks="outside",
               ticklen=26, tickwidth=3, tickcolor="#444444", showgrid=False, zeroline=False, showline=False,
               tickfont=tick_font, tickangle=-90, ticklabelstandoff=16),
)
fig.write_html("out.html", config=dict(displayModeBar=False),
               post_script="document.body.style.margin='0';document.documentElement.style.overflow='hidden';")
